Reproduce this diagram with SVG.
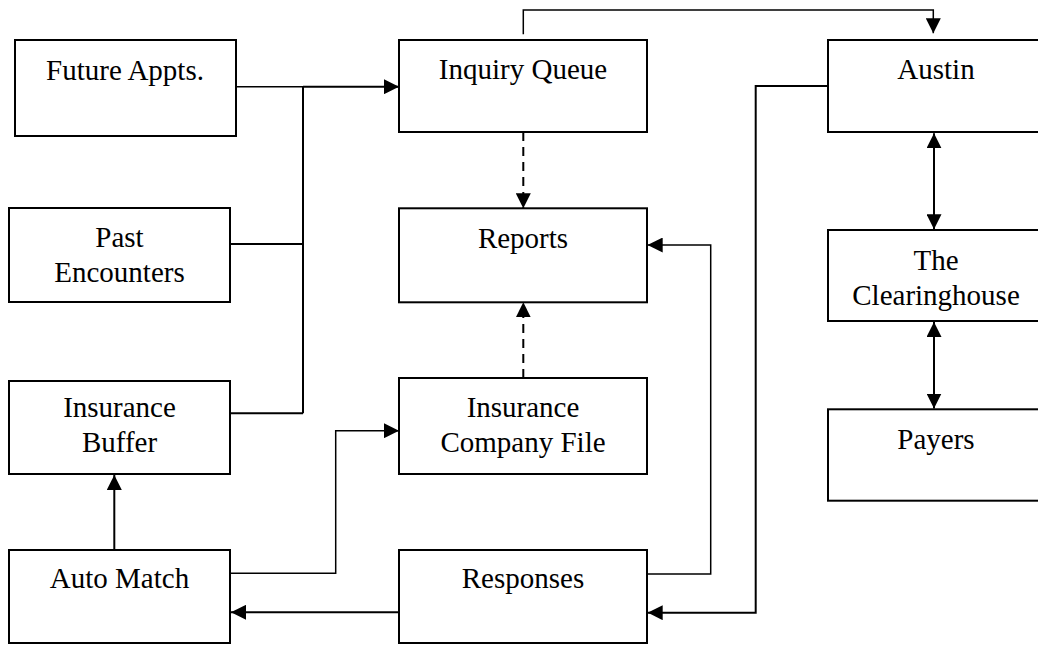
<svg xmlns="http://www.w3.org/2000/svg" width="1038" height="646" viewBox="0 0 1038 646">
<style>
.box{fill:#fff;stroke:#000;stroke-width:2}
.lbl{font-family:"Liberation Serif","Times New Roman",serif;font-size:29px;fill:#000;text-anchor:middle}
.c{fill:none;stroke:#000;stroke-width:2}
.thin{stroke-width:1.5}
.dash{stroke-dasharray:9 6}
</style>
<defs>
<marker id="ah" markerUnits="userSpaceOnUse" markerWidth="15" markerHeight="15" refX="15" refY="7.5" orient="auto-start-reverse">
<path d="M0,0 L15,7.5 L0,15 z" fill="#000"/>
</marker>
</defs>
<rect width="1038" height="646" fill="#fff"/>
<g id="connectors">
<path class="c thin" d="M236,86.7 H303"/>
<path class="c" d="M303,86.7 H399" marker-end="url(#ah)"/>
<path class="c" d="M303,86.7 V413.3"/>
<path class="c" d="M230,244 H303"/>
<path class="c" d="M230,413.3 H303"/>
<path class="c thin" d="M523.3,34.3 V10 H933.3 V33.3" marker-end="url(#ah)"/>
<path class="c dash" d="M523.3,132 V208.3" marker-end="url(#ah)"/>
<path class="c dash" d="M523.3,378 V302.3" marker-end="url(#ah)"/>
<path class="c thin" d="M647,574 H710.7 V245 H647.7" marker-end="url(#ah)"/>
<path class="c" d="M828,86 H755.7 V612.7 H647.7" marker-end="url(#ah)"/>
<path class="c" d="M934,133.3 V229.3" marker-start="url(#ah)" marker-end="url(#ah)"/>
<path class="c" d="M934,322 V408.5" marker-start="url(#ah)" marker-end="url(#ah)"/>
<path class="c" d="M114.3,550 V475" marker-end="url(#ah)"/>
<path class="c thin" d="M230,573.3 H335.7 V430.7 H399" marker-end="url(#ah)"/>
<path class="c" d="M399,612.3 H231" marker-end="url(#ah)"/>
</g>
<g id="future-appts"><rect class="box" x="15" y="40" width="221" height="96"/><text class="lbl" x="125" y="80">Future Appts.</text></g>
<g id="past-encounters"><rect class="box" x="9" y="208" width="221" height="94"/><text class="lbl" x="119.5" y="247.3">Past</text><text class="lbl" x="119.5" y="281.7">Encounters</text></g>
<g id="insurance-buffer"><rect class="box" x="9" y="381" width="221" height="93"/><text class="lbl" x="119.5" y="416.7">Insurance</text><text class="lbl" x="119.5" y="451.7">Buffer</text></g>
<g id="auto-match"><rect class="box" x="9" y="550" width="221" height="93"/><text class="lbl" x="119.5" y="588.3">Auto Match</text></g>
<g id="inquiry-queue"><rect class="box" x="399" y="40" width="248" height="92"/><text class="lbl" x="523" y="79.3">Inquiry Queue</text></g>
<g id="reports"><rect class="box" x="399" y="208.3" width="248" height="94"/><text class="lbl" x="523" y="247.7">Reports</text></g>
<g id="insurance-company-file"><rect class="box" x="399" y="378" width="248" height="96"/><text class="lbl" x="523" y="416.7">Insurance</text><text class="lbl" x="523" y="451.7">Company File</text></g>
<g id="responses"><rect class="box" x="399" y="550" width="248" height="93"/><text class="lbl" x="523" y="588.3">Responses</text></g>
<g id="austin"><rect class="box" x="828" y="40" width="216" height="92"/><text class="lbl" x="936" y="79">Austin</text></g>
<g id="clearinghouse"><rect class="box" x="828" y="230" width="216" height="91"/><text class="lbl" x="936" y="270">The</text><text class="lbl" x="936" y="305">Clearinghouse</text></g>
<g id="payers"><rect class="box" x="828" y="409.3" width="216" height="91.4"/><text class="lbl" x="936" y="449.3">Payers</text></g>
</svg>
